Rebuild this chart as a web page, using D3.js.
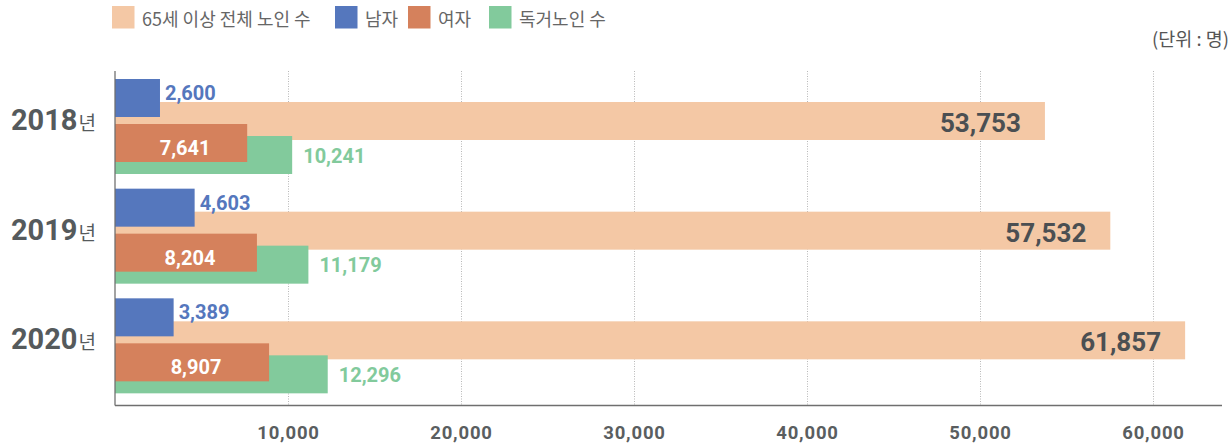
<!DOCTYPE html>
<html>
<head>
<meta charset="utf-8">
<script src="https://cdn.jsdelivr.net/npm/d3@7"></script>
<style>
  html, body { margin: 0; padding: 0; background: #fff; }
  svg { display: block; }
</style>
</head>
<body>
<svg id="chart" width="1231" height="445"></svg>
<script>
// ---- data ----
const years = ["2018", "2019", "2020"];
const totalElderly = [53753, 57532, 61857];
const male = [2600, 4603, 3389];
const female = [7641, 8204, 8907];
const livingAlone = [10241, 11179, 12296];
const seriesNames = ["65세 이상 전체 노인 수", "남자", "여자", "독거노인 수"];
const xTickValues = [10000, 20000, 30000, 40000, 50000, 60000];
const unitLabel = "(단위 : 명)";
const yearSuffix = "년";

// ---- style / layout ----
const colors = { total: "#f4c8a5", male: "#5577bd", female: "#d5815c", alone: "#82ca9c" };
const numFont = "Roboto, 'Noto Sans', sans-serif";
const korFont = "'Noto Sans CJK KR', 'Noto Sans', sans-serif";

const svg = d3.select("#chart");
const x = d3.scaleLinear().domain([0, 60000]).range([115, 1153]);
const y = d3.scaleBand().domain(years).range([68, 397]);
const barH = 38;
const off = { male: 11, total: 34, female: 56, alone: 68 };
const plotTop = 71, plotBottom = 405.5, plotRight = 1222;

// gridlines
svg.append("g").selectAll("line").data(xTickValues).join("line")
  .attr("x1", d => x(d) + 0.5).attr("x2", d => x(d) + 0.5)
  .attr("y1", plotTop).attr("y2", plotBottom)
  .attr("stroke", "#b8b8b8").attr("stroke-width", 1).attr("stroke-dasharray", "1,1.5");

const rows = years.map((yr, i) => ({
  yr, total: totalElderly[i], male: male[i], female: female[i], alone: livingAlone[i]
}));

const gBars = svg.append("g");
function bars(key) {
  gBars.append("g").selectAll("rect").data(rows).join("rect")
    .attr("x", x(0))
    .attr("y", d => y(d.yr) + off[key])
    .attr("width", d => x(d[key]) - x(0))
    .attr("height", barH)
    .attr("fill", colors[key]);
}
bars("total");
bars("male");
bars("alone");
bars("female");

const fmt = d3.format(",");
const gLab = svg.append("g").attr("font-family", numFont).attr("font-weight", 700);

// total labels
gLab.selectAll("text.tot").data(rows).join("text").attr("class", "tot")
  .attr("x", d => x(d.total) - 24).attr("y", d => y(d.yr) + off.total + 30)
  .attr("text-anchor", "end").attr("font-size", 26).attr("fill", "#4b4f52")
  .text(d => fmt(d.total));
// male labels
gLab.selectAll("text.male").data(rows).join("text").attr("class", "male")
  .attr("x", d => x(d.male) + 5).attr("y", d => y(d.yr) + off.male + 21)
  .attr("font-size", 20).attr("fill", colors.male)
  .text(d => fmt(d.male));
// female labels (inside, white)
gLab.selectAll("text.fem").data(rows).join("text").attr("class", "fem")
  .attr("x", d => (x(0) + x(d.female)) / 2 + 4).attr("y", d => y(d.yr) + off.female + 31)
  .attr("text-anchor", "middle").attr("font-size", 20).attr("fill", "#ffffff")
  .text(d => fmt(d.female));
// alone labels
gLab.selectAll("text.alone").data(rows).join("text").attr("class", "alone")
  .attr("x", d => x(d.alone) + 11).attr("y", d => y(d.yr) + off.alone + 26.5)
  .attr("font-size", 20).attr("fill", colors.alone)
  .text(d => fmt(d.alone));

// year labels
const yl = svg.append("g").selectAll("text").data(years).join("text")
  .attr("x", 96).attr("y", d => y(d) + 62).attr("text-anchor", "end")
  .attr("fill", "#555a5c");
yl.append("tspan").attr("font-family", numFont).attr("font-weight", 700).attr("font-size", 29)
  .text(d => d);
yl.append("tspan").attr("font-family", korFont).attr("font-weight", 400).attr("font-size", 19)
  .attr("dx", 1).text(yearSuffix);

// x axis
const xAxis = d3.axisBottom(x).tickValues(xTickValues).tickFormat(fmt).tickSize(0).tickPadding(20);
const gx = svg.append("g").attr("transform", `translate(0,${plotBottom})`).call(xAxis);
gx.select(".domain").remove();
gx.selectAll("text").attr("font-family", numFont).attr("font-weight", 700)
  .attr("font-size", 18.5).attr("fill", "#5a5e60").attr("letter-spacing", 0.8);

svg.append("line").attr("x1", x(0)).attr("x2", plotRight).attr("y1", plotBottom).attr("y2", plotBottom)
  .attr("stroke", "#6f6f6f").attr("stroke-width", 1.5);
svg.append("line").attr("x1", x(0)).attr("x2", x(0)).attr("y1", plotTop).attr("y2", plotBottom)
  .attr("stroke", "#6f6f6f").attr("stroke-width", 1.5).attr("opacity", 0.85);

// legend
const legendX = [112, 335, 408, 489];
const legendColors = [colors.total, colors.male, colors.female, colors.alone];
const lg = svg.append("g").selectAll("g").data(seriesNames).join("g")
  .attr("transform", (d, i) => `translate(${legendX[i]},6)`);
lg.append("rect").attr("width", 22.5).attr("height", 22.5).attr("fill", (d, i) => legendColors[i]);
lg.append("text").attr("x", 30).attr("y", 19.5).attr("font-family", korFont)
  .attr("font-size", 18).attr("fill", "#666").text(d => d);

// unit
svg.append("text").attr("x", 1229).attr("y", 46).attr("text-anchor", "end")
  .attr("font-family", korFont).attr("font-size", 18.5).attr("fill", "#555").text(unitLabel);
</script>
</body>
</html>
